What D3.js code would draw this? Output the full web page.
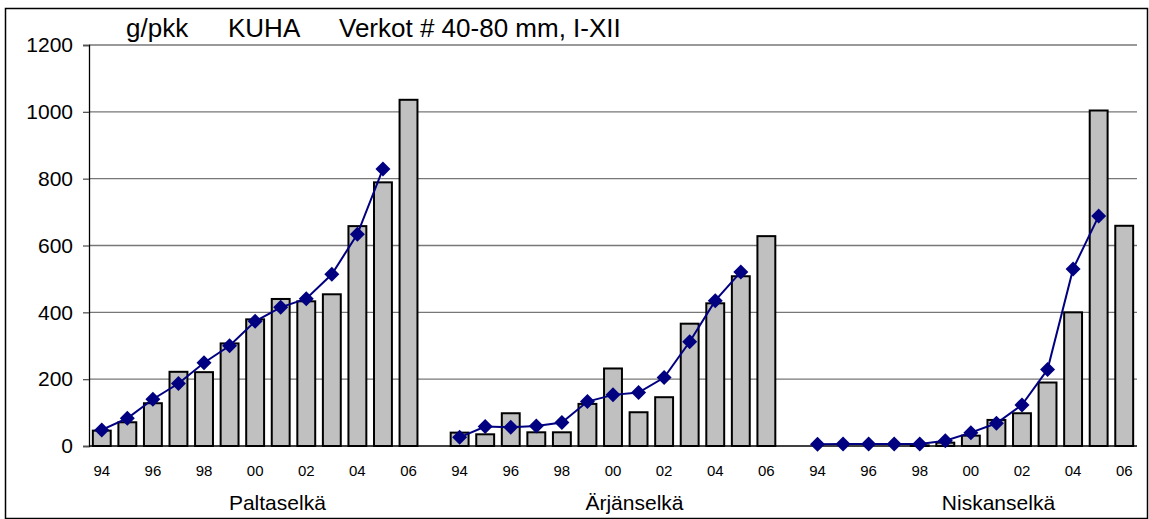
<!DOCTYPE html>
<html>
<head>
<meta charset="utf-8">
<script src="https://cdn.jsdelivr.net/npm/d3@7"></script>
<style>
  body { margin: 0; background: #fff; }
  text { font-family: Arial, "Liberation Sans", sans-serif; fill: #000; }
</style>
</head>
<body>
<script>
var years = ["94", "95", "96", "97", "98", "99", "00", "01", "02", "03", "04", "05", "06"];
var lakes = ["Paltaselkä", "Ärjänselkä", "Niskanselkä"];
var yTicks = [0, 200, 400, 600, 800, 1000, 1200];
var tickYears = ["94", "96", "98", "00", "02", "04", "06"];

// bars: yearly catch per unit effort, 94-06
var barsPalta  = [46, 71, 128, 222, 221, 307, 379, 440, 433, 454, 658, 789, 1036];
var barsArjan  = [40, 35, 98, 41, 41, 126, 232, 101, 146, 366, 427, 508, 628];
var barsNiskan = [0, 0, 0, 0, 2, 10, 31, 78, 98, 190, 400, 1004, 659];

// line: trend, 94-05
var linePalta  = [48, 83, 140, 187, 249, 300, 373, 415, 441, 514, 634, 829];
var lineArjan  = [26, 58, 56, 60, 70, 133, 153, 160, 205, 312, 435, 521];
var lineNiskan = [5, 6, 6, 6, 6, 16, 40, 68, 123, 229, 530, 688];

var barSeries = [barsPalta, barsArjan, barsNiskan];
var lineSeries = [linePalta, lineArjan, lineNiskan];

var W = 1149, H = 519;
var plotL = 89, plotR = 1137, plotT = 45, plotB = 446;

var svg = d3.select("body").append("svg").attr("width", W).attr("height", H);

// slots: 13 years per lake, with one empty slot between lakes
var slots = [];
lakes.forEach(function(l, li){
    if (li > 0) slots.push("gap" + li);
    years.forEach(function(y){ slots.push(li + "-" + y); });
});

var x = d3.scaleBand().domain(slots).range([plotL, plotR]).padding(0);
var y = d3.scaleLinear().domain([0, 1200]).range([plotB, plotT]);
var bw = x.bandwidth();
var barW = bw * 0.7;

// outer frame
svg.append("rect").attr("x", 5.5).attr("y", 8.5).attr("width", 1142).attr("height", 510)
    .attr("fill", "none").attr("stroke", "#000").attr("stroke-width", 1.5);

// gridlines
svg.append("g").selectAll("line").data(yTicks.filter(function(d){ return d > 0; }))
    .enter().append("line")
    .attr("x1", plotL).attr("x2", plotR)
    .attr("y1", function(d){ return y(d); }).attr("y2", function(d){ return y(d); })
    .attr("stroke", "#777").attr("stroke-width", 1.3);

// y axis
var yAxis = d3.axisLeft(y).tickValues(yTicks).tickSize(6).tickPadding(10).tickFormat(d3.format("d"));
var ya = svg.append("g").attr("transform", "translate(" + plotL + ",0)").call(yAxis);
ya.select(".domain").attr("stroke", "#000").attr("stroke-width", 1.3);
ya.selectAll(".tick line").attr("stroke", "#555").attr("stroke-width", 1.3);
ya.selectAll(".tick text").style("font-size", "21px").attr("fill", "#000")
    .style("font-family", "Arial, 'Liberation Sans', sans-serif");

// bars
lakes.forEach(function(l, li){
    svg.append("g").selectAll("rect").data(barSeries[li]).enter().append("rect")
        .attr("x", function(d, i){ return x(li + "-" + years[i]) + (bw - barW) / 2; })
        .attr("y", function(d){ return y(d); })
        .attr("width", barW)
        .attr("height", function(d){ return y(0) - y(d); })
        .attr("fill", "#c0c0c0").attr("stroke", "#000").attr("stroke-width", 2);
});

// x axis line
svg.append("line").attr("x1", plotL).attr("x2", plotR).attr("y1", y(0)).attr("y2", y(0))
    .attr("stroke", "#000").attr("stroke-width", 1.5);

// trend lines
var line = d3.line()
    .x(function(d){ return d.x; })
    .y(function(d){ return y(d.v); });

lakes.forEach(function(l, li){
    var pts = lineSeries[li].map(function(v, i){
        return {x: x(li + "-" + years[i]) + bw / 2, v: v};
    });
    svg.append("path").datum(pts).attr("d", line)
        .attr("fill", "none").attr("stroke", "#000080").attr("stroke-width", 2);
    svg.append("g").selectAll("path").data(pts).enter().append("path")
        .attr("d", "M0,-7.5L7.5,0L0,7.5L-7.5,0Z")
        .attr("transform", function(d){ return "translate(" + d.x + "," + y(d.v) + ")"; })
        .attr("fill", "#000080");
});

// year labels
lakes.forEach(function(l, li){
    svg.append("g").selectAll("text").data(tickYears).enter().append("text")
        .attr("x", function(d){ return x(li + "-" + d) + bw / 2; })
        .attr("y", 476)
        .attr("text-anchor", "middle")
        .style("font-size", "15px")
        .text(function(d){ return d; });
});

// lake labels, centred a little right of "00"
var lakeShift = [0.87, 0.84, 1.08];
svg.append("g").selectAll("text").data(lakes).enter().append("text")
    .attr("x", function(d, li){ return x(li + "-00") + bw / 2 + lakeShift[li] * bw; })
    .attr("y", 510)
    .attr("text-anchor", "middle")
    .style("font-size", "21px")
    .text(function(d){ return d; });

// title
var titleParts = ["g/pkk", "KUHA", "Verkot # 40-80 mm, I-XII"];
var titleX = [126, 228, 339];
svg.append("g").selectAll("text").data(titleParts).enter().append("text")
    .attr("x", function(d, i){ return titleX[i]; })
    .attr("y", 37)
    .style("font-size", "26px")
    .text(function(d){ return d; });
</script>
</body>
</html>
